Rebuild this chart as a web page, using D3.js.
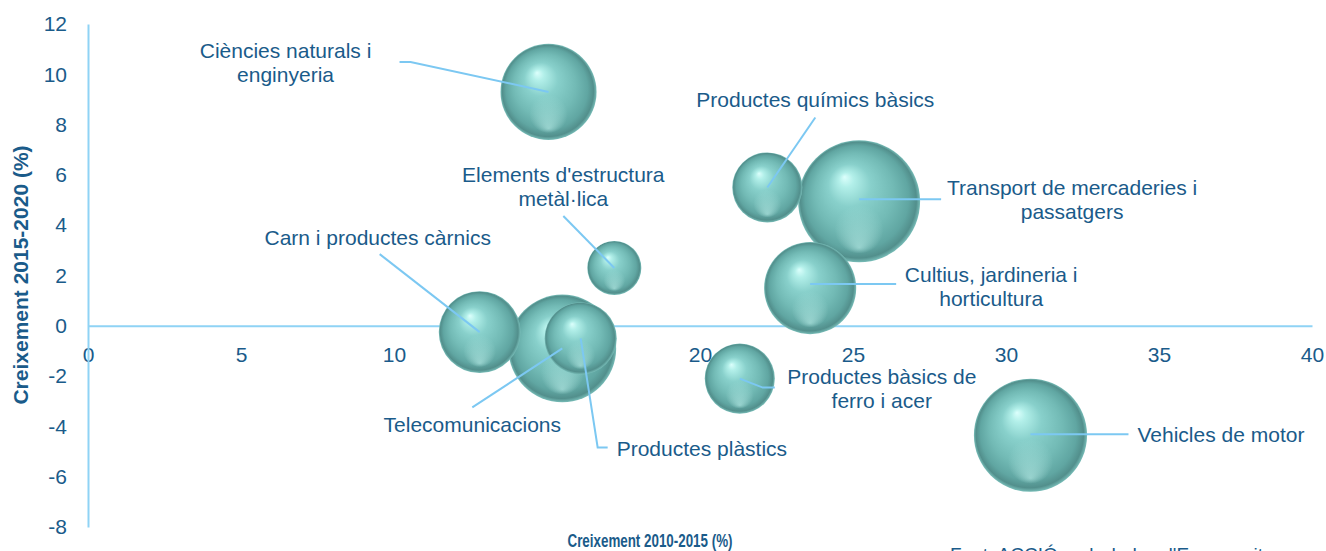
<!DOCTYPE html>
<html>
<head>
<meta charset="utf-8">
<script src="https://cdn.jsdelivr.net/npm/d3@7"></script>
<style>
body { margin: 0; background: #fff; }
svg { display: block; font-family: "Liberation Sans", Arial, sans-serif; }
</style>
</head>
<body>
<svg width="1326" height="551"></svg>
<script>
// sectors and values
var sectors = ["Ciències naturals i enginyeria", "Elements d'estructura metàl·lica",
    "Productes químics bàsics", "Transport de mercaderies i passatgers",
    "Cultius, jardineria i horticultura", "Carn i productes càrnics",
    "Telecomunicacions", "Productes plàstics",
    "Productes bàsics de ferro i acer", "Vehicles de motor"];
var growth1015 = [15.05, 17.2, 22.2, 25.2, 23.6, 12.8, 15.5, 16.1, 21.3, 30.8];
var growth1520 = [9.3, 2.3, 5.5, 4.95, 1.5, -0.25, -0.9, -0.5, -2.1, -4.35];
var bubbleSize = [62, 19.6, 33, 100, 57, 45, 78, 35, 33, 86];
var labelLines = [["Ciències naturals i", "enginyeria"], ["Elements d'estructura", "metàl·lica"],
    ["Productes químics bàsics"], ["Transport de mercaderies i", "passatgers"],
    ["Cultius, jardineria i", "horticultura"], ["Carn i productes càrnics"],
    ["Telecomunicacions"], ["Productes plàstics"],
    ["Productes bàsics de", "ferro i acer"], ["Vehicles de motor"]];
var xTicks = [0, 5, 10, 15, 20, 25, 30, 35, 40];
var yTicks = [-8, -6, -4, -2, 0, 2, 4, 6, 8, 10, 12];

// label placement, offsets in px from the bubble centre
var labelLayout = [
    {dx: -263, dy: -34, anchor: "middle", leader: [[0, 0], [-138, -30], [-149, -30]]},
    {dx: -51, dy: -86, anchor: "middle", leader: [[0, 0], [-51, -52]]},
    {dx: 48, dy: -80, anchor: "middle", leader: [[0, 0], [48, -70]]},
    {dx: 213, dy: -6, anchor: "middle", leader: [[0, -2], [82, -2]]},
    {dx: 181, dy: -6, anchor: "middle", leader: [[0, -4], [86, -4]]},
    {dx: -102, dy: -87, anchor: "middle", leader: [[0, 0], [-100, -78]]},
    {dx: -90, dy: 84, anchor: "middle", leader: [[0, 0], [-90, 59]]},
    {dx: 36, dy: 118, anchor: "start", leader: [[0, 0], [17, 109], [27, 109]]},
    {dx: 142, dy: 5, anchor: "middle", leader: [[0, 0], [23, 9], [35, 9]]},
    {dx: 107, dy: 7, anchor: "start", leader: [[0, -1], [98, -1]]}
];

var textColor = "#1a5b8a",
    lineColor = "#8fd3f5";

var svg = d3.select("svg");

var x = d3.scaleLinear().domain([0, 40]).range([88, 1312]);
var y = d3.scaleLinear().domain([-8, 12]).range([527, 24]);
var r = d3.scaleSqrt().domain([0, d3.max(bubbleSize)]).range([0, 61]);

var defs = svg.append("defs");
var grad = defs.append("radialGradient").attr("id", "sphere")
    .attr("cx", 0.5).attr("cy", 0.5).attr("r", 0.5).attr("fx", 0.38).attr("fy", 0.3);
[[0, "#dcfffc"], [0.12, "#b2efe9"], [0.35, "#88d0cb"], [0.65, "#72bab5"],
 [0.85, "#60a6a2"], [0.95, "#528f8c"], [1, "#78bdb8"]].forEach(function (s) {
    grad.append("stop").attr("offset", s[0]).attr("stop-color", s[1]);
});
var glow = defs.append("radialGradient").attr("id", "glow")
    .attr("cx", 0.5).attr("cy", 0.5).attr("r", 0.5).attr("fx", 0.5).attr("fy", 0.88);
glow.append("stop").attr("offset", 0).attr("stop-color", "#c4f5f0").attr("stop-opacity", 0.55);
glow.append("stop").attr("offset", 0.4).attr("stop-color", "#c4f5f0").attr("stop-opacity", 0);

var plain = function (d) { return String(d); };

// axes
var gx = svg.append("g")
    .attr("transform", "translate(0," + y(0) + ")")
    .call(d3.axisBottom(x).tickValues(xTicks).tickFormat(plain)
        .tickSize(0).tickSizeOuter(0).tickPadding(21));
var gy = svg.append("g")
    .attr("transform", "translate(" + x(0) + ",0)")
    .call(d3.axisLeft(y).tickValues(yTicks).tickFormat(plain)
        .tickSize(0).tickSizeOuter(0).tickPadding(21));

svg.selectAll(".domain").attr("stroke", lineColor).attr("stroke-width", 2);
svg.selectAll(".tick text")
    .attr("fill", textColor)
    .style("font-size", "21px")
    .style("font-family", "'Liberation Sans', Arial, sans-serif");

svg.append("text")
    .attr("transform", "translate(28,275) rotate(-90)")
    .attr("text-anchor", "middle")
    .attr("fill", textColor)
    .style("font-size", "21px")
    .style("font-weight", "bold")
    .text("Creixement 2015-2020 (%)");

svg.append("text")
    .attr("x", 650).attr("y", 547)
    .attr("text-anchor", "middle")
    .attr("fill", textColor)
    .attr("textLength", 165)
    .attr("lengthAdjust", "spacingAndGlyphs")
    .style("font-size", "19px")
    .style("font-weight", "bold")
    .text("Creixement 2010-2015 (%)");

svg.append("text")
    .attr("x", 950).attr("y", 561)
    .attr("fill", textColor)
    .style("font-size", "19px")
    .text("Font: ACCIÓ amb dades d'Euromonitor");

// bubbles, biggest first so the small ones sit on top
var data = sectors.map(function (s, i) {
    return {name: s, gx: growth1015[i], gy: growth1520[i], size: bubbleSize[i],
        lines: labelLines[i], layout: labelLayout[i]};
});
var order = data.slice().sort(function (a, b) { return b.size - a.size; });

var bubbles = svg.append("g").selectAll("g")
    .data(order)
    .enter().append("g")
    .attr("transform", function (d) { return "translate(" + x(d.gx) + "," + y(d.gy) + ")"; });
bubbles.append("circle")
    .attr("r", function (d) { return r(d.size); })
    .attr("fill", "url(#sphere)");
bubbles.append("circle")
    .attr("r", function (d) { return r(d.size); })
    .attr("fill", "url(#glow)");

// leader lines and labels
var line = d3.line();
var notes = svg.append("g").selectAll("g")
    .data(data)
    .enter().append("g")
    .attr("transform", function (d) { return "translate(" + x(d.gx) + "," + y(d.gy) + ")"; });

notes.append("path")
    .attr("d", function (d) { return line(d.layout.leader); })
    .attr("fill", "none")
    .attr("stroke", "#7cc8f2")
    .attr("stroke-width", 2);

notes.append("text")
    .attr("x", function (d) { return d.layout.dx; })
    .attr("y", function (d) { return d.layout.dy; })
    .attr("text-anchor", function (d) { return d.layout.anchor; })
    .attr("fill", textColor)
    .style("font-size", "21px")
    .selectAll("tspan")
    .data(function (d) { return d.lines.map(function (t) { return {t: t, dx: d.layout.dx}; }); })
    .enter().append("tspan")
    .attr("x", function (d) { return d.dx; })
    .attr("dy", function (d, i) { return i === 0 ? 0 : 24; })
    .text(function (d) { return d.t; });
</script>
</body>
</html>
